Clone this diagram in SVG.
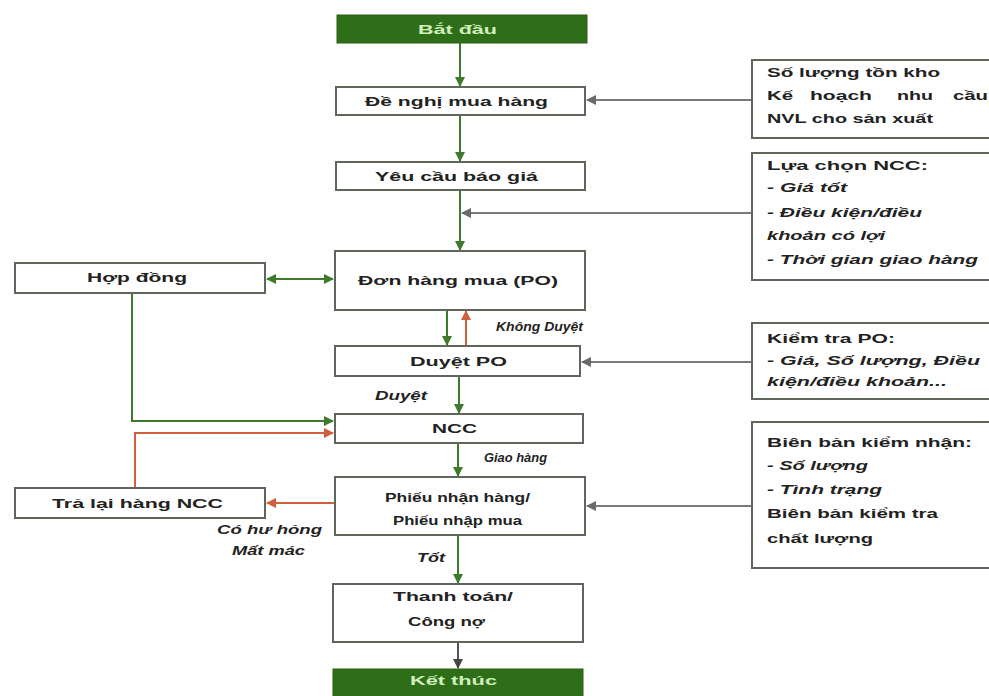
<svg xmlns="http://www.w3.org/2000/svg" width="989" height="696" viewBox="0 0 989 696">
<style>
.box{fill:#fff;stroke:#5f665c;stroke-width:2}
.term{fill:#2f6e18;stroke:#2a5e16;stroke-width:1}
.t{font-family:"Liberation Sans",Arial,sans-serif;font-weight:bold;font-size:13px;fill:#222}
.tw{font-family:"Liberation Sans",Arial,sans-serif;font-weight:bold;font-size:13px;fill:#cfeebb}
.i{font-style:italic}
.g{stroke:#3f7a2c;stroke-width:2;fill:none}
.r{stroke:#d2603f;stroke-width:2;fill:none}
.k{stroke:#7a7a7a;stroke-width:2;fill:none}
.d{stroke:#555;stroke-width:2;fill:none}
</style>
<defs>
<marker id="ag" viewBox="0 0 10 10" refX="9" refY="5" markerWidth="5" markerHeight="5" orient="auto-start-reverse"><path d="M0,0L10,5L0,10z" fill="#3f7a2c"/></marker>
<marker id="ar" viewBox="0 0 10 10" refX="9" refY="5" markerWidth="5" markerHeight="5" orient="auto-start-reverse"><path d="M0,0L10,5L0,10z" fill="#d2603f"/></marker>
<marker id="ak" viewBox="0 0 10 10" refX="9" refY="5" markerWidth="5" markerHeight="5" orient="auto-start-reverse"><path d="M0,0L10,5L0,10z" fill="#6a6a6a"/></marker>
<marker id="ad" viewBox="0 0 10 10" refX="9" refY="5" markerWidth="5" markerHeight="5" orient="auto-start-reverse"><path d="M0,0L10,5L0,10z" fill="#444"/></marker>
</defs>
<rect width="989" height="696" fill="#fff"/>

<g id="connectors">
<path class="g" d="M460,43V86" marker-end="url(#ag)"/>
<path class="g" d="M460,115V161" marker-end="url(#ag)"/>
<path class="g" d="M460,190V250" marker-end="url(#ag)"/>
<path class="k" d="M752,100H587" marker-end="url(#ak)"/>
<path class="k" d="M752,213H462" marker-end="url(#ak)"/>
<path class="g" d="M267,279H333" marker-start="url(#ag)" marker-end="url(#ag)"/>
<path class="g" d="M447,310V345" marker-end="url(#ag)"/>
<path class="r" d="M466,346V311" marker-end="url(#ar)"/>
<path class="k" d="M752,362H582" marker-end="url(#ak)"/>
<path class="g" d="M459,376V413" marker-end="url(#ag)"/>
<path class="g" d="M132,293V421H333" marker-end="url(#ag)"/>
<path class="r" d="M135,488V433H333" marker-end="url(#ar)"/>
<path class="g" d="M458,443V476" marker-end="url(#ag)"/>
<path class="r" d="M335,503H267" marker-end="url(#ar)"/>
<path class="k" d="M752,506H587" marker-end="url(#ak)"/>
<path class="g" d="M458,535V583" marker-end="url(#ag)"/>
<path class="d" d="M458,642V668" marker-end="url(#ad)"/>
</g>

<g id="start"><rect class="term" x="337" y="15" width="250" height="28"/><text class="tw" x="418" y="34" textLength="79" lengthAdjust="spacingAndGlyphs">Bắt đầu</text></g>
<g id="de-nghi"><rect class="box" x="336" y="87" width="249" height="28"/><text class="t" x="365" y="106" textLength="183" lengthAdjust="spacingAndGlyphs">Đề nghị mua hàng</text></g>
<g id="yeu-cau"><rect class="box" x="336" y="162" width="249" height="28"/><text class="t" x="375" y="181" textLength="163" lengthAdjust="spacingAndGlyphs">Yêu cầu báo giá</text></g>
<g id="don-hang"><rect class="box" x="335" y="251" width="250" height="59"/><text class="t" x="358" y="285" textLength="200" lengthAdjust="spacingAndGlyphs">Đơn hàng mua (PO)</text></g>
<g id="hop-dong"><rect class="box" x="15" y="263" width="250" height="30"/><text class="t" x="87" y="282" textLength="100" lengthAdjust="spacingAndGlyphs">Hợp đồng</text></g>
<g id="duyet-po"><rect class="box" x="335" y="346" width="245" height="30"/><text class="t" x="410" y="366" textLength="97" lengthAdjust="spacingAndGlyphs">Duyệt PO</text></g>
<g id="ncc"><rect class="box" x="335" y="414" width="248" height="29"/><text class="t" x="432" y="433" textLength="45" lengthAdjust="spacingAndGlyphs">NCC</text></g>
<g id="phieu"><rect class="box" x="335" y="477" width="250" height="58"/><text class="t" x="385" y="502" textLength="145" lengthAdjust="spacingAndGlyphs">Phiếu nhận hàng/</text><text class="t" x="393" y="525" textLength="129" lengthAdjust="spacingAndGlyphs">Phiếu nhập mua</text></g>
<g id="tra-lai"><rect class="box" x="15" y="488" width="250" height="30"/><text class="t" x="52" y="508" textLength="171" lengthAdjust="spacingAndGlyphs">Trả lại hàng NCC</text></g>
<g id="thanh-toan"><rect class="box" x="333" y="584" width="250" height="58"/><text class="t" x="393" y="601" textLength="120" lengthAdjust="spacingAndGlyphs">Thanh toán/</text><text class="t" x="408" y="626" textLength="77" lengthAdjust="spacingAndGlyphs">Công nợ</text></g>
<g id="end"><rect class="term" x="333" y="669" width="250" height="30"/><text class="tw" x="410" y="685" textLength="87" lengthAdjust="spacingAndGlyphs">Kết thúc</text></g>

<g id="labels">
<text class="t i" x="496" y="331" textLength="87" lengthAdjust="spacingAndGlyphs">Không Duyệt</text>
<text class="t i" x="375" y="400" textLength="52" lengthAdjust="spacingAndGlyphs">Duyệt</text>
<text class="t i" x="484" y="462" textLength="63" lengthAdjust="spacingAndGlyphs">Giao hàng</text>
<text class="t i" x="217" y="534" textLength="105" lengthAdjust="spacingAndGlyphs">Có hư hỏng</text>
<text class="t i" x="232" y="555" textLength="73" lengthAdjust="spacingAndGlyphs">Mất mác</text>
<text class="t i" x="417" y="562" textLength="28" lengthAdjust="spacingAndGlyphs">Tốt</text>
</g>

<g id="note-ton-kho"><rect class="box" x="752" y="60" width="245" height="78"/>
<text class="t" x="767" y="77" textLength="173" lengthAdjust="spacingAndGlyphs">Số lượng tồn kho</text>
<text class="t" x="767" y="100" textLength="26" lengthAdjust="spacingAndGlyphs">Kế</text>
<text class="t" x="810" y="100" textLength="62" lengthAdjust="spacingAndGlyphs">hoạch</text>
<text class="t" x="897" y="100" textLength="36" lengthAdjust="spacingAndGlyphs">nhu</text>
<text class="t" x="953" y="100" textLength="35" lengthAdjust="spacingAndGlyphs">cầu</text>
<text class="t" x="767" y="123" textLength="166" lengthAdjust="spacingAndGlyphs">NVL cho sản xuất</text></g>

<g id="note-ncc"><rect class="box" x="752" y="153" width="245" height="127"/>
<text class="t" x="767" y="170" textLength="161" lengthAdjust="spacingAndGlyphs">Lựa chọn NCC:</text>
<text class="t i" x="767" y="192" textLength="80" lengthAdjust="spacingAndGlyphs">- Giá tốt</text>
<text class="t i" x="767" y="217" textLength="155" lengthAdjust="spacingAndGlyphs">- Điều kiện/điều</text>
<text class="t i" x="767" y="240" textLength="118" lengthAdjust="spacingAndGlyphs">khoản có lợi</text>
<text class="t i" x="767" y="264" textLength="211" lengthAdjust="spacingAndGlyphs">- Thời gian giao hàng</text></g>

<g id="note-kiem-tra"><rect class="box" x="752" y="323" width="245" height="76"/>
<text class="t" x="767" y="343" textLength="128" lengthAdjust="spacingAndGlyphs">Kiểm tra PO:</text>
<text class="t i" x="767" y="365" textLength="213" lengthAdjust="spacingAndGlyphs">- Giá, Số lượng, Điều</text>
<text class="t i" x="767" y="386" textLength="180" lengthAdjust="spacingAndGlyphs">kiện/điều khoản...</text></g>

<g id="note-bien-ban"><rect class="box" x="752" y="422" width="245" height="146"/>
<text class="t" x="767" y="447" textLength="205" lengthAdjust="spacingAndGlyphs">Biên bản kiểm nhận:</text>
<text class="t i" x="767" y="470" textLength="101" lengthAdjust="spacingAndGlyphs">- Số lượng</text>
<text class="t i" x="767" y="494" textLength="115" lengthAdjust="spacingAndGlyphs">- Tình trạng</text>
<text class="t" x="767" y="518" textLength="171" lengthAdjust="spacingAndGlyphs">Biên bản kiểm tra</text>
<text class="t" x="767" y="543" textLength="106" lengthAdjust="spacingAndGlyphs">chất lượng</text></g>
</svg>
